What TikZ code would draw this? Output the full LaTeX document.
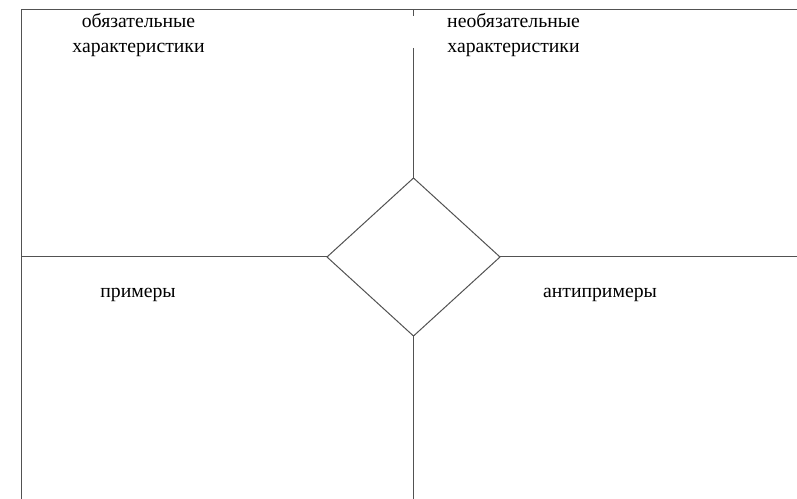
\documentclass[tikz,border=0pt]{standalone}
\usepackage{fontspec}
\setmainfont{Liberation Serif}
\begin{document}
\begin{tikzpicture}[x=1bp,y=-1bp,
  ln/.style={draw=black!68,line width=1bp},
  lbl/.style={font=\fontsize{19.8}{26}\selectfont,align=center,inner sep=0pt,anchor=base}]
\useasboundingbox (0,0) rectangle (797,499);
% frame corners
\coordinate (tl) at (21,10);
\coordinate (tr) at (797,10);
\coordinate (bl) at (21,499);
\coordinate (ml) at (21,257);
\coordinate (mr) at (797,257);
\coordinate (vt) at (413.5,10);
\coordinate (vt2) at (413.5,16);
\coordinate (vt3) at (413.5,48);
\coordinate (vb) at (413.5,499);
% diamond corners
\coordinate (dt) at (413.5,178);
\coordinate (dl) at (327,257);
\coordinate (dr) at (500,257);
\coordinate (db) at (413.5,336);
\draw[ln] (tr) -- (tl) -- (bl);
\draw[ln] (ml) -- (dl);
\draw[ln] (dr) -- (mr);
\draw[ln] (vt) -- (vt2);
\draw[ln] (vt3) -- (dt);
\draw[ln] (db) -- (vb);
\draw[ln] (dt) -- (dr) -- (db) -- (dl) -- cycle;
% labels
\node[lbl] (a1) at (138.5,27.5) {обязательные};
\node[lbl] (a2) at (138.5,53) {характеристики};
\node[lbl] (b1) at (513.5,27.5) {необязательные};
\node[lbl] (b2) at (513.5,53) {характеристики};
\node[lbl] (c) at (138,297.5) {примеры};
\node[lbl] (d) at (600,297.5) {антипримеры};
\end{tikzpicture}
\end{document}
